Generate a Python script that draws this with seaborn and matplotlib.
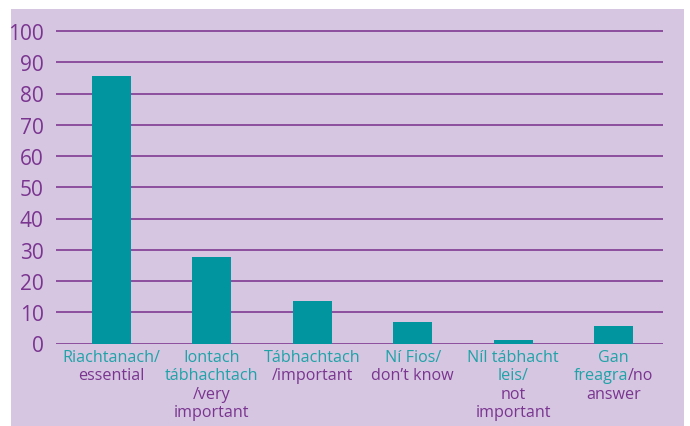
import matplotlib
matplotlib.use("Agg")
import matplotlib.pyplot as plt
import seaborn as sns
import pandas as pd
from matplotlib.patches import Rectangle
from matplotlib.transforms import IdentityTransform

categories = ["Riachtanach/essential", "Iontach tábhachtach/very important",
              "Tábhachtach/important", "Ní Fios/don't know",
              "Níl tábhacht leis/not important", "Gan freagra/no answer"]
values = [85.5, 27.8, 13.5, 6.8, 1.0, 5.5]
yticks = [0, 10, 20, 30, 40, 50, 60, 70, 80, 90, 100]

# label lines: list of (segment text, is_irish)
label_lines = [
    [[("Riachtanach/", True)], [("essential", False)]],
    [[("Iontach", True)], [("tábhachtach", True)], [("/very", False)], [("important", False)]],
    [[("Tábhachtach", True)], [("/important", False)]],
    [[("Ní Fios/", True)], [("don\u2019t know", False)]],
    [[("Níl tábhacht", True)], [("leis/", True)], [("not", False)], [("important", False)]],
    [[("Gan", True)], [("freagra", True), ("/no", False)], [("answer", False)]],
]

BG = "#d6c6e1"
TEAL = "#00959f"
TEAL_TXT = "#1fa3a8"
PURPLE = "#7a3590"
GRID = "#8b4e9e"

sns.set_theme(style="white")
plt.rcParams["font.family"] = ["Open Sans", "DejaVu Sans"]

W, H = 690, 427
fig = plt.figure(figsize=(6.9, 4.27), dpi=100)
fig.patch.set_facecolor("white")
fig.patches.append(Rectangle((11 / W, 0), (684 - 11) / W, (H - 10) / H,
                             transform=fig.transFigure, facecolor=BG,
                             edgecolor="none", zorder=-10))

y0px, y100px = 344.5, 32
top_px = y100px - 0.02 * (y0px - y100px)
ax = fig.add_axes([56 / W, (H - y0px) / H, (663 - 56) / W, (y0px - top_px) / H])
ax.set_facecolor("none")

df = pd.DataFrame({"cat": categories, "val": values})
sns.barplot(data=df, x="cat", y="val", order=categories, color=TEAL,
            width=0.39, saturation=1, linewidth=0, edgecolor="none", ax=ax, zorder=3)

ax.set_xlim(-0.55, 5.49)
ax.set_ylim(0, 102)
ax.set_yticks(yticks)
ax.set_yticklabels([str(t) for t in yticks], fontsize=15, color=PURPLE)
ax.tick_params(axis="y", length=0, pad=9)
ax.tick_params(axis="x", length=0, labelbottom=False)
ax.set_xlabel("")
ax.set_ylabel("")
for s in ax.spines.values():
    s.set_visible(False)
for t in yticks:
    ax.axhline(t, color=GRID, lw=1.4, zorder=1)

renderer = fig.canvas.get_renderer()
first_baseline = 362.0
pitch = 18.5
for i, lines in enumerate(label_lines):
    xc = ax.transData.transform((i, 0))[0]
    for k, line in enumerate(lines):
        ydisp = H - (first_baseline + k * pitch)
        texts = []
        for txt, irish in line:
            t = fig.text(0, ydisp, txt, transform=IdentityTransform(),
                         color=TEAL_TXT if irish else PURPLE, fontsize=11.6,
                         ha="left", va="baseline")
            texts.append(t)
        widths = [t.get_window_extent(renderer).width for t in texts]
        x = xc - sum(widths) / 2
        for t, w in zip(texts, widths):
            t.set_position((x, ydisp))
            x += w

fig.savefig("out.png", dpi=100, facecolor=fig.get_facecolor())
